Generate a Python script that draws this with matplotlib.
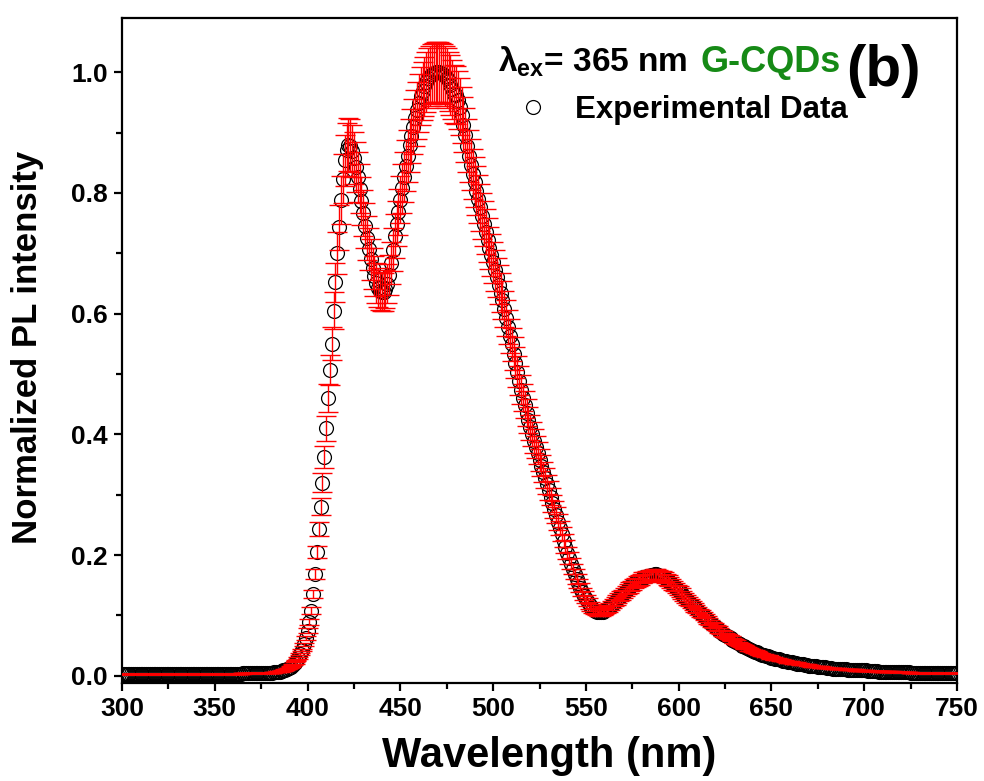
import numpy as np
import matplotlib
matplotlib.use("Agg")
import matplotlib.pyplot as plt
from matplotlib.ticker import MultipleLocator, FormatStrFormatter

plt.rcParams['font.family'] = ['Liberation Sans', 'DejaVu Sans']
plt.rcParams['font.weight'] = 'bold'
plt.rcParams['mathtext.fontset'] = 'custom'
plt.rcParams['mathtext.rm'] = 'Liberation Sans:bold'
plt.rcParams['mathtext.bf'] = 'Liberation Sans:bold'
plt.rcParams['mathtext.it'] = 'Liberation Sans:bold'

# wavelength grid (nm), 1 nm step
wavelength = np.arange(300, 751)

# normalized PL intensity, one value per nm (300 ... 750)
intensity = [
    0.003, 0.003, 0.003, 0.003, 0.003, 0.003, 0.003, 0.003, 0.003, 0.003,  # 300
    0.003, 0.003, 0.003, 0.003, 0.003, 0.003, 0.003, 0.003, 0.003, 0.003,  # 310
    0.003, 0.003, 0.003, 0.003, 0.003, 0.003, 0.003, 0.003, 0.003, 0.003,  # 320
    0.003, 0.003, 0.003, 0.003, 0.003, 0.003, 0.003, 0.003, 0.003, 0.003,  # 330
    0.003, 0.003, 0.003, 0.003, 0.003, 0.003, 0.003, 0.003, 0.003, 0.003,  # 340
    0.003, 0.003, 0.003, 0.003, 0.003, 0.003, 0.003, 0.003, 0.003, 0.003,  # 350
    0.003, 0.003, 0.003, 0.003, 0.003, 0.004, 0.004, 0.004, 0.004, 0.004,  # 360
    0.004, 0.004, 0.004, 0.004, 0.004, 0.005, 0.005, 0.005, 0.005, 0.005,  # 370
    0.005, 0.005, 0.006, 0.006, 0.007, 0.007, 0.008, 0.009, 0.010, 0.011,  # 380
    0.013, 0.015, 0.018, 0.021, 0.025, 0.030, 0.036, 0.043, 0.052, 0.062,  # 390
    0.075, 0.089, 0.108, 0.135, 0.168, 0.205, 0.243, 0.280, 0.320, 0.362,  # 400
    0.410, 0.460, 0.507, 0.550, 0.605, 0.652, 0.700, 0.743, 0.788, 0.824,  # 410
    0.854, 0.872, 0.880, 0.878, 0.870, 0.858, 0.843, 0.826, 0.807, 0.787,  # 420
    0.767, 0.746, 0.726, 0.707, 0.690, 0.675, 0.662, 0.651, 0.643, 0.638,  # 430
    0.636, 0.636, 0.641, 0.650, 0.664, 0.684, 0.706, 0.728, 0.749, 0.769,  # 440
    0.789, 0.808, 0.827, 0.845, 0.862, 0.879, 0.895, 0.910, 0.924, 0.937,  # 450
    0.949, 0.960, 0.969, 0.977, 0.984, 0.990, 0.994, 0.997, 0.999, 1.000,  # 460
    1.000, 1.000, 0.999, 0.997, 0.994, 0.990, 0.985, 0.979, 0.972, 0.964,  # 470
    0.962, 0.954, 0.943, 0.929, 0.913, 0.896, 0.878, 0.862, 0.847, 0.832,  # 480
    0.818, 0.804, 0.790, 0.776, 0.762, 0.749, 0.736, 0.722, 0.709, 0.697,  # 490
    0.685, 0.672, 0.660, 0.648, 0.635, 0.623, 0.608, 0.593, 0.578, 0.563,  # 500
    0.549, 0.534, 0.519, 0.504, 0.489, 0.474, 0.461, 0.449, 0.436, 0.424,  # 510
    0.412, 0.400, 0.389, 0.379, 0.369, 0.358, 0.348, 0.338, 0.328, 0.317,  # 520
    0.307, 0.297, 0.286, 0.276, 0.266, 0.255, 0.245, 0.235, 0.224, 0.214,  # 530
    0.204, 0.195, 0.186, 0.177, 0.168, 0.160, 0.153, 0.146, 0.139, 0.133,  # 540
    0.127, 0.122, 0.117, 0.113, 0.110, 0.107, 0.106, 0.105, 0.105, 0.106,  # 550
    0.108, 0.110, 0.112, 0.115, 0.118, 0.121, 0.124, 0.127, 0.130, 0.133,  # 560
    0.136, 0.139, 0.142, 0.145, 0.148, 0.150, 0.153, 0.155, 0.157, 0.159,  # 570
    0.161, 0.163, 0.164, 0.165, 0.166, 0.167, 0.167, 0.168, 0.168, 0.167,  # 580
    0.166, 0.165, 0.163, 0.161, 0.159, 0.156, 0.153, 0.150, 0.147, 0.144,  # 590
    0.141, 0.138, 0.134, 0.131, 0.127, 0.124, 0.121, 0.118, 0.115, 0.112,  # 600
    0.109, 0.106, 0.103, 0.100, 0.097, 0.094, 0.091, 0.088, 0.085, 0.083,  # 610
    0.080, 0.078, 0.075, 0.073, 0.070, 0.068, 0.066, 0.064, 0.062, 0.060,  # 620
    0.058, 0.056, 0.054, 0.052, 0.050, 0.049, 0.047, 0.046, 0.044, 0.043,  # 630
    0.041, 0.040, 0.039, 0.038, 0.036, 0.035, 0.034, 0.033, 0.032, 0.031,  # 640
    0.030, 0.029, 0.028, 0.028, 0.027, 0.026, 0.025, 0.025, 0.024, 0.023,  # 650
    0.023, 0.022, 0.021, 0.021, 0.020, 0.020, 0.019, 0.019, 0.018, 0.018,  # 660
    0.017, 0.017, 0.016, 0.016, 0.016, 0.015, 0.015, 0.014, 0.014, 0.014,  # 670
    0.013, 0.013, 0.013, 0.012, 0.012, 0.012, 0.012, 0.011, 0.011, 0.011,  # 680
    0.011, 0.010, 0.010, 0.010, 0.010, 0.010, 0.009, 0.009, 0.009, 0.009,  # 690
    0.009, 0.009, 0.008, 0.008, 0.008, 0.008, 0.008, 0.008, 0.007, 0.007,  # 700
    0.007, 0.007, 0.007, 0.007, 0.007, 0.007, 0.006, 0.006, 0.006, 0.006,  # 710
    0.006, 0.006, 0.006, 0.006, 0.006, 0.005, 0.005, 0.005, 0.005, 0.005,  # 720
    0.005, 0.005, 0.005, 0.005, 0.005, 0.005, 0.005, 0.005, 0.005, 0.005,  # 730
    0.005, 0.005, 0.005, 0.005, 0.005, 0.004, 0.004, 0.004, 0.004, 0.004,  # 740
    0.004,                                                                # 750
]

# error bars are about 5 % of the signal
rel_err = 0.05

intensity = np.array(intensity)
yerr = rel_err * intensity

W, H = 984, 781
fig = plt.figure(figsize=(W / 100, H / 100), dpi=100)
ax = fig.add_axes([122 / W, 1 - 683 / H, (957 - 122) / W, (683 - 18) / H])

pts, = ax.plot(wavelength, intensity, 'o', ms=10, mfc='none', mec='black', mew=0.9, zorder=2)
ax.errorbar(wavelength, intensity, yerr=yerr, fmt='none', ecolor='red',
            elinewidth=1.0, capsize=7, capthick=1.0, zorder=3)

ax.set_xlim(300, 750)
ax.set_ylim(-0.012, 1.09)
ax.xaxis.set_major_locator(MultipleLocator(50))
ax.xaxis.set_minor_locator(MultipleLocator(25))
ax.yaxis.set_major_locator(MultipleLocator(0.2))
ax.yaxis.set_minor_locator(MultipleLocator(0.1))
ax.yaxis.set_major_formatter(FormatStrFormatter('%.1f'))

for s in ax.spines.values():
    s.set_linewidth(1.6)
ax.tick_params(which='major', direction='out', length=6, width=1.6, labelsize=19, pad=4)
ax.tick_params(which='minor', direction='out', length=4, width=1.6)

ax.set_xlabel('Wavelength (nm)', fontsize=30, fontweight='bold')
ax.set_ylabel('Normalized PL intensity', fontsize=25, fontweight='bold')
ax.xaxis.set_label_coords(0.512, -0.08)
ax.yaxis.set_label_coords(-0.093, 0.505)

def fx(x):
    return x / W

def fy(y):
    return 1 - y / H

fig.text(fx(498), fy(72), r'$\mathrm{\lambda}_{\mathbf{ex}}$= 365 nm', fontsize=24,
         fontweight='bold', va='baseline', ha='left')
fig.text(fx(700), fy(72), 'G-CQDs', fontsize=26, fontweight='bold', color='#168a16',
         va='baseline', ha='left')
fig.text(fx(846), fy(86), '(b)', fontsize=42, fontweight='bold', va='baseline', ha='left')

ax.legend(handles=[pts], labels=['Experimental Data'], loc='center left',
          bbox_to_anchor=(fx(517), fy(110)), bbox_transform=fig.transFigure,
          frameon=False, handlelength=1.0, handletextpad=0.85, borderpad=0,
          borderaxespad=0, numpoints=1, prop={'size': 22.5, 'weight': 'bold'})

fig.savefig('out.png', dpi=100)
